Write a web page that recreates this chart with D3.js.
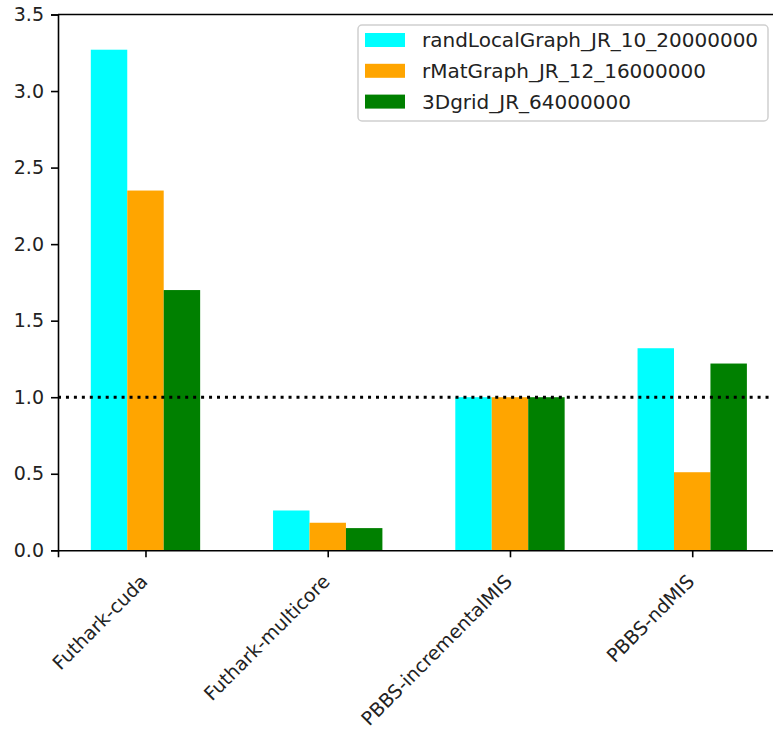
<!DOCTYPE html>
<html>
<head>
<meta charset="utf-8">
<script src="https://cdn.jsdelivr.net/npm/d3@7"></script>
<style>
  body { margin: 0; background: #fff; }
  text { font-family: 'DejaVu Sans', sans-serif; fill: #222; }
</style>
</head>
<body>
<div id="app"></div>
<script>
var categories = ['Futhark-cuda', 'Futhark-multicore', 'PBBS-incrementalMIS', 'PBBS-ndMIS'];
var seriesNames = ['randLocalGraph_JR_10_20000000', 'rMatGraph_JR_12_16000000', '3Dgrid_JR_64000000'];
var randLocal = [3.27, 0.26, 1.0, 1.32];
var rMat = [2.35, 0.18, 1.0, 0.51];
var grid3D = [1.70, 0.145, 1.0, 1.22];
var yTicks = [0, 0.5, 1.0, 1.5, 2.0, 2.5, 3.0, 3.5];
var baseline = 1.0;

var colors = ['#00ffff', '#ffa500', '#008000'];
var series = [randLocal, rMat, grid3D];
var barWidth = 0.2;

var svg = d3.select('#app')
  .append('svg')
    .attr('width', 773)
    .attr('height', 731);

var scaleX = d3.scaleLinear()
    .domain([-0.48, 3.48])
    .range([58, 779.7]);

var scaleY = d3.scaleLinear()
    .domain([0, 3.5])
    .range([550.3, 14.5]);

// bars
series.forEach(function(vals, s){
  svg.append('g')
      .attr('class', 'series')
    .selectAll('rect')
      .data(vals)
    .enter().append('rect')
      .attr('x', function(d, i){ return scaleX(i + (s - 1) * barWidth - barWidth / 2); })
      .attr('width', scaleX(barWidth) - scaleX(0))
      .attr('y', function(d){ return scaleY(d); })
      .attr('height', function(d){ return scaleY(0) - scaleY(d); })
      .style('fill', colors[s]);
});

// dotted reference line at 1.0
svg.append('line')
    .attr('x1', scaleX(-0.48))
    .attr('x2', scaleX(3.48))
    .attr('y1', scaleY(baseline))
    .attr('y2', scaleY(baseline))
    .style('stroke', '#000')
    .style('stroke-width', 3)
    .style('stroke-dasharray', '3,4.95');

// y axis
var yAxis = svg.append('g')
    .attr('transform', 'translate(58,0)')
    .call(d3.axisLeft(scaleY).tickValues(yTicks).tickFormat(d3.format('.1f')).tickSize(7).tickPadding(7));

// x axis
var xAxis = svg.append('g')
    .attr('transform', 'translate(0,550.3)')
    .call(d3.axisBottom(scaleX).tickValues([0, 1, 2, 3]).tickFormat(function(d){ return categories[d]; }).tickSize(7).tickPadding(7));

[yAxis, xAxis].forEach(function(ax){
  ax.select('.domain').style('stroke', '#000').style('stroke-width', 1.6);
  ax.selectAll('.tick line').style('stroke', '#000').style('stroke-width', 1.6);
  ax.selectAll('text').style('font-size', '19px').style('font-family', "'DejaVu Sans', sans-serif").style('fill', '#222');
});

xAxis.selectAll('.tick text')
    .attr('y', 0)
    .attr('dy', 0)
    .attr('text-anchor', 'end')
    .attr('transform', 'translate(0,14) rotate(-45) translate(-11,15)');

// top spine
svg.append('line')
    .attr('x1', 58)
    .attr('x2', 773)
    .attr('y1', 14.5)
    .attr('y2', 14.5)
    .style('stroke', '#000')
    .style('stroke-width', 1.6);

// legend
var legend = svg.append('g')
    .attr('transform', 'translate(358,25)');

legend.append('rect')
    .attr('width', 410)
    .attr('height', 96)
    .attr('rx', 4)
    .style('fill', '#fff')
    .style('fill-opacity', 0.8)
    .style('stroke', '#d0d0d0')
    .style('stroke-width', 1.5);

var rows = legend.selectAll('g.row')
    .data(seriesNames)
  .enter().append('g')
    .attr('class', 'row')
    .attr('transform', function(d, i){ return 'translate(0,' + (15 + i * 30.8) + ')'; });

rows.append('rect')
    .attr('x', 7)
    .attr('y', -7)
    .attr('width', 40)
    .attr('height', 14)
    .style('fill', function(d, i){ return colors[i]; });

rows.append('text')
    .attr('x', 64)
    .attr('y', 7)
    .style('font-size', '20px')
    .text(function(d){ return d; });
</script>
</body>
</html>
